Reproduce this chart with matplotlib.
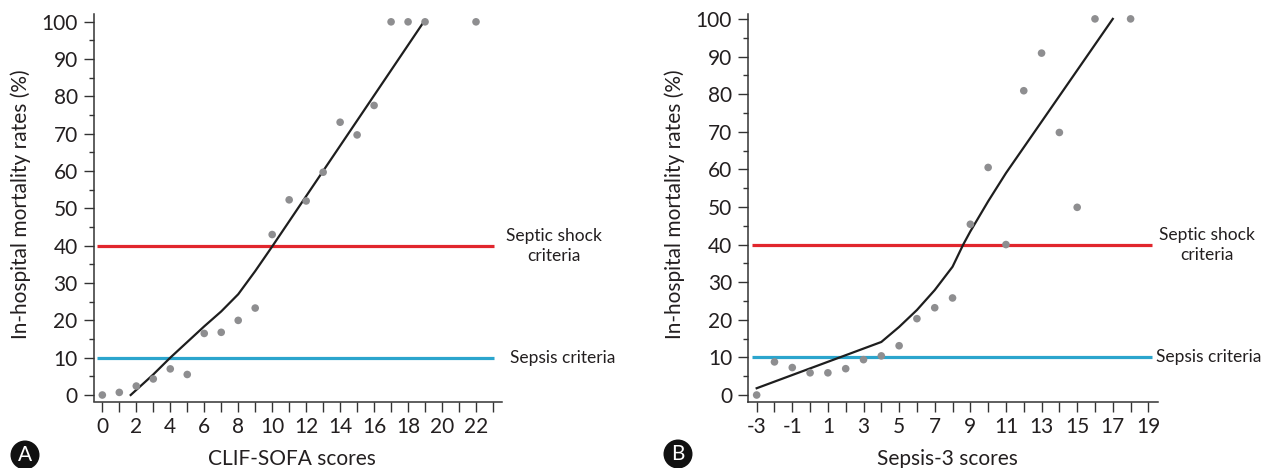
import matplotlib
matplotlib.use("Agg")
import matplotlib.pyplot as plt
from matplotlib.patches import Circle

# panel A: CLIF-SOFA
clif_scores = [0, 1, 2, 3, 4, 5, 6, 7, 8, 9, 10, 11, 12, 13, 14, 15, 16, 17, 18, 19, 22]
clif_mortality = [0, 0.7, 2.4, 4.3, 7.0, 5.5, 16.5, 16.8, 20.0, 23.3, 43.0,
                  52.3, 52.0, 59.7, 73.1, 69.7, 77.6, 100, 100, 100, 100]
clif_fit_x = [1.67, 3, 4, 5, 6, 7, 8, 9, 10, 18.85]
clif_fit_y = [0, 5.5, 10, 14.2, 18.4, 22.4, 27.0, 33.2, 39.8, 99.5]

# panel B: Sepsis-3
sepsis_scores = [-3, -2, -1, 0, 1, 2, 3, 4, 5, 6, 7, 8, 9, 10, 11, 12, 13, 14, 15, 16, 18]
sepsis_mortality = [0, 8.8, 7.3, 5.9, 5.9, 7.0, 9.4, 10.4, 13.1, 20.3, 23.2, 25.8,
                    45.4, 60.5, 40.0, 80.9, 90.9, 69.8, 49.9, 100, 100]
sepsis_fit_x = [-3, 4, 5, 6, 7, 8, 8.6, 9, 10, 11, 17]
sepsis_fit_y = [1.8, 14.1, 18.1, 22.6, 27.9, 34.1, 40, 43.5, 51.5, 59, 100]

septic_shock_cut = 40
sepsis_cut = 10

plt.rcParams["font.family"] = ["Lato", "DejaVu Sans"]
TEXT = "#231f20"
RED = "#e1262d"
BLUE = "#2ba5cd"
DOT = "#8e8e90"

W, H = 1270, 468
fig = plt.figure(figsize=(W / 100, H / 100), dpi=100)


def px_axes(left, right, top, bottom):
    return fig.add_axes([left / W, 1 - bottom / H, (right - left) / W, (bottom - top) / H])


def draw_panel(ax, scores, mort, fit_x, fit_y, xlim, ylim, xticks, label_step,
               line_span, xlabel, shock_x, sepsis_x):
    ax.set_xlim(*xlim)
    ax.set_ylim(*ylim)
    ax.hlines([septic_shock_cut], *line_span, color=RED, lw=2.3, zorder=1)
    ax.hlines([sepsis_cut], *line_span, color=BLUE, lw=2.3, zorder=1)
    ax.plot(fit_x, fit_y, color="#1e1e1e", lw=1.6, zorder=2)
    ax.scatter(scores, mort, s=30, color=DOT, edgecolors="none", zorder=3, clip_on=False)

    for s in ("top", "right"):
        ax.spines[s].set_visible(False)
    for s in ("left", "bottom"):
        ax.spines[s].set_color("#333333")
        ax.spines[s].set_linewidth(1.1)

    ax.set_xticks(xticks)
    ax.set_xticklabels([str(t) if (t - xticks[0]) % label_step == 0 else "" for t in xticks])
    ax.set_yticks(range(0, 101, 10))
    ax.set_yticks(range(5, 100, 10), minor=True)
    ax.tick_params(axis="both", which="major", length=7.2, width=1.0, color="#333333",
                   labelsize=15, labelcolor=TEXT)
    ax.tick_params(axis="x", pad=4)
    ax.tick_params(axis="y", pad=4.5)
    ax.tick_params(axis="y", which="minor", length=3.8, width=1.0, color="#333333")

    ax.set_xlabel(xlabel, fontsize=15, color=TEXT)
    ax.xaxis.set_label_coords(0.485, -0.148)
    ax.xaxis.label.set_va("center")
    ax.set_ylabel("In-hospital mortality rates (%)", fontsize=15, color=TEXT)
    ax.yaxis.set_label_coords(-0.179, 0.51)
    ax.yaxis.label.set_va("center")

    ax.text(shock_x, septic_shock_cut, "Septic shock\ncriteria", ha="center", va="center",
            fontsize=12.5, color=TEXT, linespacing=1.3, clip_on=False)
    ax.text(sepsis_x, sepsis_cut, "Sepsis criteria", ha="left", va="center",
            fontsize=12.5, color=TEXT, clip_on=False)


ax_a = px_axes(94, 502, 14, 401.5)
draw_panel(ax_a, clif_scores, clif_mortality, clif_fit_x, clif_fit_y,
           (-0.49, 23.53), (-1.74, 102.1), list(range(0, 24)), 2,
           (-0.29, 23.08), "CLIF-SOFA scores", 26.56, 24.03)

ax_b = px_axes(748.3, 1158.2, 14, 401.7)
draw_panel(ax_b, sepsis_scores, sepsis_mortality, sepsis_fit_x, sepsis_fit_y,
           (-3.47, 19.55), (-1.78, 101.3), list(range(-3, 20)), 2,
           (-3.25, 19.22), "Sepsis-3 scores", 22.28, 19.43)

# panel letters in black discs
for letter, cx, cy in (("A", 25, 455), ("B", 678, 454)):
    xy = (cx / 100, (H - cy) / 100)
    fig.patches.append(Circle(xy, 0.145, transform=fig.dpi_scale_trans,
                              facecolor="#111111", edgecolor="none"))
    fig.text(xy[0], xy[1], letter, transform=fig.dpi_scale_trans, ha="center",
             va="center", color="white", fontsize=15)

fig.savefig("out.png", dpi=100)
